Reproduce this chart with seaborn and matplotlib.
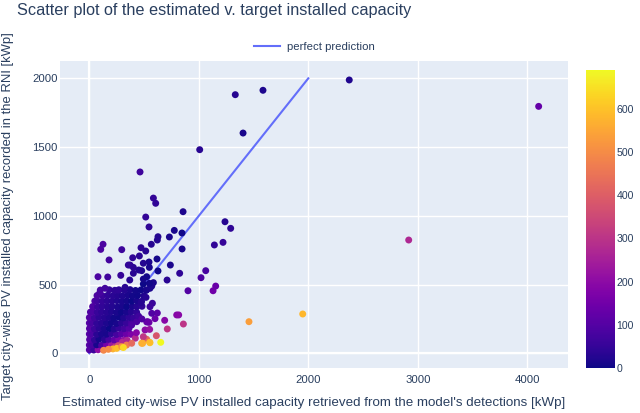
import matplotlib
matplotlib.use("Agg")
import matplotlib.pyplot as plt
import seaborn as sns
import pandas as pd
from matplotlib.colors import Normalize
from matplotlib.cm import ScalarMappable

# ---------------- data ----------------
# dense cluster of cities (estimated kWp, RNI kWp, relative error %)
body_est = [0, 40, 80,
            0, 22, 67, 112, 157, 202, 247,
            2, 47, 88, 137, 178, 227, 268, 322,
            0, 22, 67, 112, 157, 202, 247, 292, 337, 380,
            1, 46, 89, 134, 183, 226, 269, 317, 362,
            0, 22, 67, 112, 157, 202, 247, 292, 337, 382,
            0, 46, 88, 137, 181, 223, 272, 313, 361, 404,
            10, 32, 72, 112, 157, 202, 247, 292, 337, 382, 432,
            30, 76, 119, 166, 208, 257, 301, 343, 392, 433, 481,
            50, 72, 117, 162, 207, 252, 297, 342, 387, 432, 477,
            70, 121, 168, 216, 261, 303, 352, 394, 441, 498,
            100, 182, 232, 272, 322, 372, 422, 472, 520]
body_rni = [25, 24, 26,
            60, 61, 62, 58, 61, 59, 62,
            100, 98, 103, 99, 101, 97, 102, 99,
            140, 142, 138, 141, 139, 143, 137, 141, 140, 138,
            180, 178, 182, 179, 181, 177, 183, 179, 181,
            220, 222, 218, 221, 219, 223, 217, 221, 220, 222,
            260, 258, 262, 259, 261, 257, 263, 259, 261, 258,
            300, 302, 298, 301, 299, 303, 297, 301, 300, 302, 298,
            340, 338, 342, 339, 341, 337, 343, 339, 341, 338, 342,
            380, 382, 378, 381, 379, 383, 377, 381, 380, 382, 378,
            420, 418, 422, 419, 421, 417, 423, 419, 421, 418,
            460, 462, 458, 461, 459, 463, 457, 461, 459]
body_err = [100, 60, 200,
            100, 80, 12, 87, 160, 237, 310,
            100, 45, 10, 35, 80, 125, 170, 220,
            100, 85, 35, 15, 12, 44, 76, 109, 141, 171,
            100, 60, 35, 15, 0, 25, 50, 75, 100,
            100, 80, 45, 30, 18, 8, 12, 33, 53, 74,
            100, 65, 40, 30, 20, 8, 4, 21, 38, 56,
            97, 85, 55, 40, 30, 20, 12, 3, 12, 27, 44,
            91, 60, 45, 35, 25, 18, 12, 1, 15, 28, 41,
            87, 70, 50, 40, 30, 22, 16, 10, 2, 14, 26,
            83, 60, 45, 35, 28, 20, 14, 6, 5, 19,
            78, 50, 40, 32, 25, 18, 8, 3, 13]

# scattered cities
out_est = [2374, 1333, 1586, 1404, 1008, 463, 585, 606, 515, 856, 545, 1239, 1291,
           627, 621, 776, 846, 731, 566, 472, 515, 296, 125, 104, 847, 1142, 1221,
           396, 457, 618, 180, 4104, 2917, 545, 548, 740, 825, 627, 1063, 1020,
           1154, 1130, 710, 901, 585, 570, 554, 493, 521, 518, 576, 554, 472, 621,
           798, 816, 688, 600, 524, 545, 387, 433, 533, 79, 168, 287, 95, 372, 402,
           493, 402, 478, 524, 356, 451, 493, 548, 369, 143, 265, 326, 570, 509,
           450, 480, 300, 345, 420, 430]
out_rni = [1988, 1881, 1913, 1602, 1481, 1319, 1129, 1091, 991, 1030, 919, 957, 909,
           848, 824, 894, 875, 846, 793, 768, 744, 754, 793, 756, 759, 788, 807,
           695, 708, 686, 679, 1796, 824, 664, 625, 642, 582, 599, 601, 550,
           489, 455, 533, 455, 514, 489, 473, 504, 460, 407, 364, 339, 368, 293,
           279, 279, 240, 252, 228, 225, 206, 230, 230, 557, 555, 567, 439, 642, 625,
           655, 582, 601, 557, 642, 606, 540, 509, 533, 473, 460, 480, 291, 170,
           270, 250, 80, 95, 110, 150]
out_err = [19, 29, 17, 12, 32, 65, 48, 44, 48, 17, 41, 29, 42,
           26, 25, 13, 3, 14, 29, 39, 31, 61, 84, 86, 12, 45, 51,
           43, 35, 10, 73, 128, 270, 18, 12, 15, 42, 5, 77, 85,
           136, 148, 33, 98, 14, 17, 17, 2, 13, 27, 58, 63, 28, 112,
           186, 192, 187, 138, 130, 142, 88, 88, 132, 86, 70, 49, 78, 42, 36,
           25, 31, 20, 6, 45, 26, 9, 8, 31, 70, 42, 32, 96, 199,
           67, 92, 275, 263, 282, 187]

# strongly over-estimated cities (drawn last)
warm_est = [130, 215, 265, 340, 859, 712, 551, 612, 500, 524, 493, 387, 174, 250,
            296, 478, 487, 554, 551, 1458, 1949, 311, 652]
warm_rni = [22, 32, 55, 60, 213, 177, 174, 128, 109, 102, 121, 73, 29, 36,
            48, 73, 73, 77, 80, 230, 286, 42, 80]
warm_err = [490, 570, 380, 470, 303, 302, 217, 378, 359, 414, 307, 430, 500, 594,
            517, 555, 567, 619, 589, 534, 581, 640, 690]

line_x = [0, 2000]
line_y = [0, 2000]

x_ticks = [0, 1000, 2000, 3000, 4000]
y_ticks = [0, 500, 1000, 1500, 2000]
cbar_ticks = [0, 100, 200, 300, 400, 500, 600]
color_range = (0, 690)

df = pd.DataFrame({
    "est": body_est + out_est + warm_est,
    "rni": body_rni + out_rni + warm_rni,
    "err": body_err + out_err + warm_err,
})

# ---------------- figure ----------------
plt.rcParams["font.family"] = ["Liberation Sans", "DejaVu Sans"]
TXT = "#2a3f5f"
BG = "#E5ECF6"

fig = plt.figure(figsize=(6.4, 4.13), dpi=100)
fig.patch.set_facecolor("white")
ax = fig.add_axes([60 / 640, 1 - 368.3 / 413, 508 / 640, 307.3 / 413])
ax.set_facecolor(BG)
for s in ax.spines.values():
    s.set_visible(False)
ax.set_axisbelow(True)
ax.grid(True, color="white", linewidth=1.0)
ax.axhline(0, color="white", linewidth=1.6, zorder=0.5)
ax.axvline(0, color="white", linewidth=1.6, zorder=0.5)

sns.lineplot(x=line_x, y=line_y, ax=ax, color="#636efa", linewidth=1.5,
             label="perfect prediction", legend=False, zorder=2)

cmap = plt.get_cmap("plasma")
sns.scatterplot(data=df, x="est", y="rni", hue="err", palette="plasma",
                hue_norm=color_range, legend=False, ax=ax, s=25,
                edgecolor="none", linewidth=0, zorder=3)

ax.set_xlim(-268, 4372)
ax.set_ylim(-109, 2126)
ax.set_xticks(x_ticks)
ax.set_yticks(y_ticks)
ax.set_xticklabels([str(t) for t in x_ticks])
ax.set_yticklabels([str(t) for t in y_ticks])
ax.tick_params(axis="x", length=0, labelsize=8.2, colors=TXT, pad=5)
ax.tick_params(axis="y", length=0, labelsize=8.2, colors=TXT, pad=1.5)
ax.set_xlabel("")
ax.set_ylabel("")

fig.text(314 / 640, 1 - 403 / 413,
         "Estimated city-wise PV installed capacity retrieved from the model's detections [kWp]",
         ha="center", va="center", fontsize=9.6, color=TXT)
fig.text(8.5 / 640, 1 - 216 / 413,
         "Target city-wise PV installed capacity recorded in the RNI [kWp]",
         ha="center", va="center", rotation=90, fontsize=9.4, color=TXT)
fig.text(17 / 640, 1 - 10 / 413,
         "Scatter plot of the estimated v. target installed capacity",
         ha="left", va="center", fontsize=11.7, color=TXT)

handles, labels = ax.get_legend_handles_labels()
fig.legend(handles, labels, loc="center", bbox_to_anchor=(314 / 640, 1 - 47 / 413),
           frameon=False, fontsize=8.2, handlelength=2.3, handletextpad=0.6,
           labelcolor=TXT)

cax = fig.add_axes([586 / 640, 1 - 368 / 413, 29 / 640, 298 / 413])
sm = ScalarMappable(norm=Normalize(*color_range), cmap=cmap)
cb = fig.colorbar(sm, cax=cax, ticks=cbar_ticks)
cb.outline.set_visible(False)
cax.tick_params(length=0, labelsize=7.6, colors=TXT, pad=1.2)

fig.savefig("out.png", dpi=100)
